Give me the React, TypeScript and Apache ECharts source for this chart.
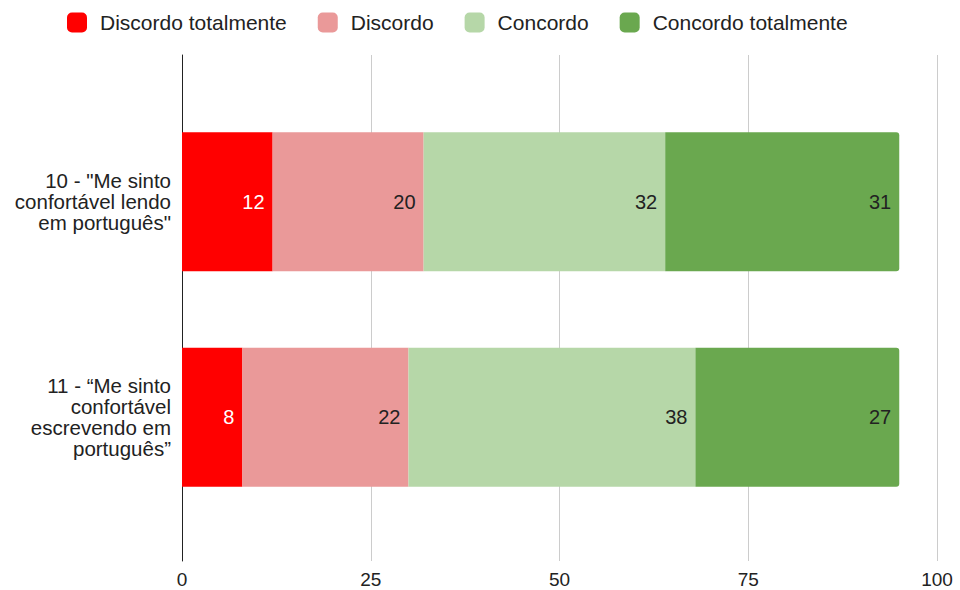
import React, { useEffect, useRef } from "react";
import * as echarts from "echarts";

const categories = [
  '10 - "Me sinto\nconfortável lendo\nem português"',
  "11 - “Me sinto\nconfortável\nescrevendo em\nportuguês”",
];
const seriesNames = ["Discordo totalmente", "Discordo", "Concordo", "Concordo totalmente"];
const discordoTotalmente = [12, 8];
const discordo = [20, 22];
const concordo = [32, 38];
const concordoTotalmente = [31, 27];
const xTicks = [0, 25, 50, 75, 100];

const colors = ["#ff0000", "#ea9999", "#b6d7a8", "#6aa84f"];
const labelColors = ["#ffffff", "#222222", "#222222", "#222222"];
const FONT = "Liberation Sans";

export default function App() {
  const ref = useRef<HTMLDivElement>(null);
  useEffect(() => {
    if (!ref.current) return;
    document.body.style.margin = "0";
    const chart = echarts.init(ref.current, null, { renderer: "svg" });
    const values = [discordoTotalmente, discordo, concordo, concordoTotalmente];
    const xMin = xTicks[0];
    const xMax = xTicks[xTicks.length - 1];
    chart.setOption({
      animation: false,
      textStyle: { fontFamily: FONT },
      legend: {
        top: 12,
        left: 67,
        padding: 0,
        itemWidth: 20,
        itemHeight: 20,
        itemGap: 31,
        icon: "roundRect",
        textStyle: { fontSize: 21, color: "#222", fontFamily: FONT, padding: [0, 0, 0, 8] },
        data: seriesNames,
      },
      grid: [
        { left: 182, right: 23, top: 55, bottom: 29, containLabel: false, outerBoundsMode: "none" },
        { left: 182, right: 23, top: 94, bottom: 65, containLabel: false, outerBoundsMode: "none" },
      ],
      xAxis: [
        {
          gridIndex: 0,
          type: "value",
          min: xMin,
          max: xMax,
          interval: 25,
          axisLine: { show: false },
          axisTick: { show: false },
          splitLine: { lineStyle: { color: "#cccccc", width: 1 } },
          axisLabel: { fontSize: 19, lineHeight: 19, color: "#222", margin: 9, fontFamily: FONT },
        },
        {
          gridIndex: 1,
          type: "value",
          min: xMin,
          max: xMax,
          interval: 25,
          show: false,
        },
      ],
      yAxis: [
        {
          gridIndex: 0,
          type: "value",
          min: 0,
          max: 1,
          axisLine: { show: true, lineStyle: { color: "#222", width: 1 } },
          axisTick: { show: false },
          axisLabel: { show: false },
          splitLine: { show: false },
        },
        {
          gridIndex: 1,
          type: "category",
          inverse: true,
          data: categories,
          axisLine: { show: false },
          axisTick: { show: false },
          axisLabel: {
            fontSize: 20.5,
            lineHeight: 21,
            color: "#222",
            margin: 11,
            align: "right",
            fontFamily: FONT,
          },
        },
      ],
      series: seriesNames.map((name, i) => ({
        name,
        type: "bar",
        stack: "total",
        xAxisIndex: 1,
        yAxisIndex: 1,
        barWidth: 139,
        data: values[i],
        itemStyle: {
          color: colors[i],
          borderRadius: i === 3 ? [0, 3, 3, 0] : 0,
        },
        label: {
          show: true,
          position: "insideRight",
          distance: 8,
          fontSize: 20,
          color: labelColors[i],
          fontFamily: FONT,
        },
      })),
    });
    return () => chart.dispose();
  }, []);
  return <div ref={ref} style={{ width: 960, height: 590 }} />;
}
